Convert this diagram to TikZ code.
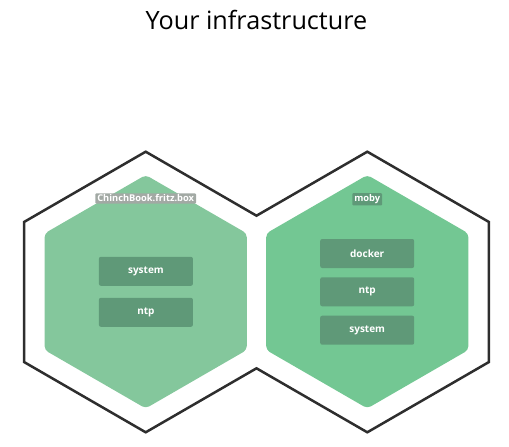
\documentclass[tikz,border=0pt]{standalone}
\usepackage{fontspec}
\setmainfont{Open Sans}
\definecolor{outline}{HTML}{2E2E2E}
\definecolor{hexL}{HTML}{84C79C}
\definecolor{hexR}{HTML}{73C793}
\definecolor{svc}{HTML}{5F9978}
\definecolor{hostgray}{HTML}{A2A9A4}
\tikzset{
  svcbox/.style={fill=svc, rounded corners=2pt, minimum width=94pt, minimum height=29pt,
    text=white, font=\fontsize{10}{12}\selectfont\bfseries, inner sep=0pt},
  hostlabel/.style={rounded corners=1pt, text=white, font=\fontsize{9.3}{11}\selectfont\bfseries,
    inner xsep=2pt, inner ysep=1.5pt},
  greenhex/.style={rounded corners=4pt, draw=none}
}
\begin{document}
\begin{tikzpicture}[x=1pt,y=-1pt]
\useasboundingbox (0,0) rectangle (509,447);
\node[font=\fontsize{25.2}{29}\selectfont, anchor=base] (title) at (256.5,30) {Your infrastructure};
% outline (union of two hexagons)
\draw[outline, line width=2.5pt, line join=miter]
  (145.7,151.7) -- (24.2,221.9) -- (24.2,362.1) -- (145.7,432.3) -- (256.5,368.3)
  -- (367.3,432.3) -- (488.8,362.1) -- (488.8,221.9) -- (367.3,151.7) -- (256.5,215.7) -- cycle;
% green hexagons
\fill[hexL, greenhex] (145.7,175) -- (44.6,233.4) -- (44.6,350.0) -- (145.7,408.4)
  -- (246.8,350.0) -- (246.8,233.4) -- cycle;
\fill[hexR, greenhex] (367.3,175) -- (266.2,233.4) -- (266.2,350.0) -- (367.3,408.4)
  -- (468.4,350.0) -- (468.4,233.4) -- cycle;
% host labels
\node[hostlabel, fill=hostgray] (hostL) at (145.7,198.5) {ChinchBook.fritz.box};
\node[hostlabel, fill=svc] (hostR) at (367.2,199.3) {moby};
% services
\node[svcbox] (l1) at (145.9,271.3) {system};
\node[svcbox] (l2) at (145.9,312.3) {ntp};
\node[svcbox] (r1) at (367.2,253.5) {docker};
\node[svcbox] (r2) at (367.2,291.8) {ntp};
\node[svcbox] (r3) at (367.2,330.2) {system};
\end{tikzpicture}
\end{document}
